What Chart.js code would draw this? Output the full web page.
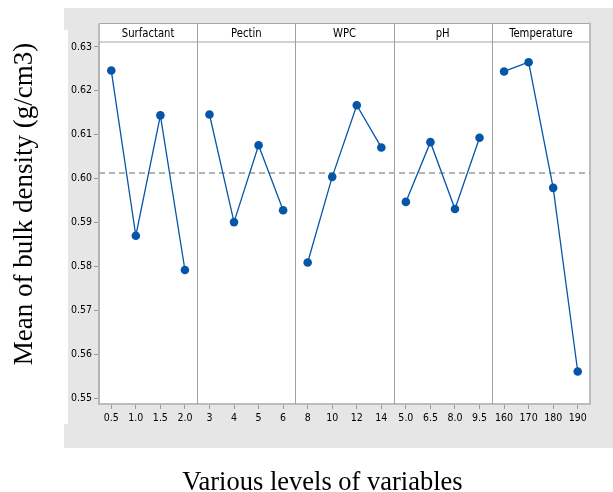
<!DOCTYPE html>
<html>
<head>
<meta charset="utf-8">
<script src="https://cdn.jsdelivr.net/npm/chart.js@4"></script>
<style>
html,body{margin:0;padding:0;background:#fff;}
#wrap{position:relative;width:613px;height:492px;}
</style>
</head>
<body>
<div id="wrap"><canvas id="c" width="613" height="492"></canvas></div>
<script>
// ---- data ----
const factors = ['Surfactant', 'Pectin', 'WPC', 'pH', 'Temperature'];
const levelLabels = ['0.5','1.0','1.5','2.0','3','4','5','6','8','10','12','14','5.0','6.5','8.0','9.5','160','170','180','190'];
const surfactant = [0.6246, 0.5870, 0.6144, 0.5792];
const pectin = [0.6146, 0.5901, 0.6076, 0.5928];
const wpc = [0.5809, 0.6004, 0.6167, 0.6071];
const ph = [0.5947, 0.6083, 0.5931, 0.6093];
const temperature = [0.6244, 0.6265, 0.5979, 0.5561];
const grandMean = 0.6013;
const yTicks = [0.55, 0.56, 0.57, 0.58, 0.59, 0.60, 0.61, 0.62, 0.63];
const yTitle = 'Mean of bulk density (g/cm3)';
const xTitle = 'Various levels of variables';

const seriesList = [surfactant, pectin, wpc, ph, temperature];
const perPanel = 4;
const BLUE = '#0656a8';

function padSeries(vals, idx) {
  const arr = new Array(levelLabels.length).fill(null);
  vals.forEach((v, i) => { arr[idx * perPanel + i] = v; });
  return arr;
}

const datasets = seriesList.map((vals, i) => ({
  label: factors[i],
  data: padSeries(vals, i),
  borderColor: BLUE,
  backgroundColor: BLUE,
  borderWidth: 1.3,
  pointRadius: 4.3,
  pointHoverRadius: 4.3,
  pointBorderWidth: 0,
  spanGaps: false,
  tension: 0
}));

const tickFont = { family: "'Liberation Sans Narrow', 'DejaVu Sans Condensed', sans-serif", size: 10.5, weight: 'normal' };

const decor = {
  id: 'decor',
  beforeDraw(chart) {
    const ctx = chart.ctx;
    const a = chart.chartArea;
    ctx.save();
    ctx.fillStyle = '#e6e6e6';
    ctx.fillRect(64, 8, 549, 440);
    ctx.fillStyle = '#ffffff';
    ctx.fillRect(64, 30, 4, 394);
    const headerTop = a.top - 18.5;
    ctx.fillRect(a.left, headerTop, a.right - a.left, a.bottom - headerTop);
    ctx.restore();
  },
  beforeDatasetsDraw(chart) {
    const ctx = chart.ctx;
    const a = chart.chartArea;
    const x = chart.scales.x;
    const y = chart.scales.y;
    const headerTop = a.top - 18.5;
    ctx.save();
    const bounds = [a.left];
    for (let p = 1; p < factors.length; p++) {
      const i = p * perPanel;
      bounds.push((x.getPixelForValue(i - 1) + x.getPixelForValue(i)) / 2);
    }
    bounds.push(a.right);
    ctx.strokeStyle = '#a6a6a6';
    ctx.lineWidth = 1.2;
    ctx.beginPath();
    ctx.moveTo(a.left, headerTop); ctx.lineTo(a.right, headerTop);
    ctx.moveTo(a.left, a.top); ctx.lineTo(a.right, a.top);
    ctx.stroke();
    ctx.strokeStyle = '#a0a0a0';
    ctx.lineWidth = 1;
    ctx.beginPath();
    for (let p = 1; p < factors.length; p++) {
      const bx = Math.round(bounds[p]) + 0.5;
      ctx.moveTo(bx, headerTop); ctx.lineTo(bx, a.bottom);
    }
    ctx.stroke();
    ctx.strokeStyle = '#bdbdbd';
    ctx.lineWidth = 2;
    ctx.beginPath();
    ctx.moveTo(a.right, headerTop - 1); ctx.lineTo(a.right, a.bottom + 1);
    ctx.moveTo(a.left, headerTop); ctx.lineTo(a.left, a.top);
    ctx.stroke();
    // header labels (condensed horizontally)
    ctx.fillStyle = '#000';
    ctx.font = "13px 'Liberation Sans Narrow', 'DejaVu Sans Condensed', sans-serif";
    ctx.textAlign = 'center';
    ctx.textBaseline = 'middle';
    const sx = 0.86;
    for (let p = 0; p < factors.length; p++) {
      ctx.save();
      ctx.translate((bounds[p] + bounds[p + 1]) / 2, (headerTop + a.top) / 2 + 0.5);
      ctx.scale(sx, 1);
      ctx.fillText(factors[p], 0, 0);
      ctx.restore();
    }
    const my = y.getPixelForValue(grandMean);
    ctx.strokeStyle = '#9c9c9c';
    ctx.lineWidth = 1.5;
    ctx.setLineDash([6, 4]);
    ctx.beginPath();
    ctx.moveTo(a.left, my); ctx.lineTo(a.right, my);
    ctx.stroke();
    ctx.setLineDash([]);
    ctx.restore();
  },
  afterDraw(chart) {
    const ctx = chart.ctx;
    ctx.save();
    ctx.fillStyle = '#000';
    ctx.font = "27px 'Liberation Serif', 'Times New Roman', serif";
    ctx.textAlign = 'center';
    ctx.textBaseline = 'alphabetic';
    ctx.translate(32, 204);
    ctx.rotate(-Math.PI / 2);
    ctx.fillText(yTitle, 0, 0);
    ctx.restore();
    ctx.save();
    ctx.fillStyle = '#000';
    ctx.font = "26.5px 'Liberation Serif', 'Times New Roman', serif";
    ctx.textAlign = 'center';
    ctx.textBaseline = 'alphabetic';
    ctx.fillText(xTitle, 322.5, 490);
    ctx.restore();
  }
};

new Chart(document.getElementById('c'), {
  type: 'line',
  data: { labels: levelLabels, datasets },
  options: {
    responsive: false,
    animation: false,
    events: [],
    layout: { padding: { left: 0, top: 42, right: 23, bottom: 0 } },
    plugins: { legend: { display: false }, tooltip: { enabled: false }, title: { display: false } },
    scales: {
      x: {
        type: 'category',
        offset: true,
        afterFit(s) { s.height = 88; },
        grid: { drawOnChartArea: false, offset: false, tickLength: 5, tickColor: '#9a9a9a', tickWidth: 1 },
        border: { color: '#bdbdbd', width: 2 },
        ticks: { font: tickFont, color: '#000', padding: 3, maxRotation: 0, autoSkip: false }
      },
      y: {
        type: 'linear',
        min: 0.5487,
        max: 0.6311,
        afterFit(s) { s.width = 99; },
        afterBuildTicks(s) { s.ticks = yTicks.map(v => ({ value: v })); },
        grid: { drawOnChartArea: false, tickLength: 5, tickColor: '#9a9a9a', tickWidth: 1 },
        border: { color: '#b5b5b5', width: 2 },
        ticks: { font: tickFont, color: '#000', padding: 2, callback: v => v.toFixed(2) }
      }
    }
  },
  plugins: [decor]
});
</script>
</body>
</html>
